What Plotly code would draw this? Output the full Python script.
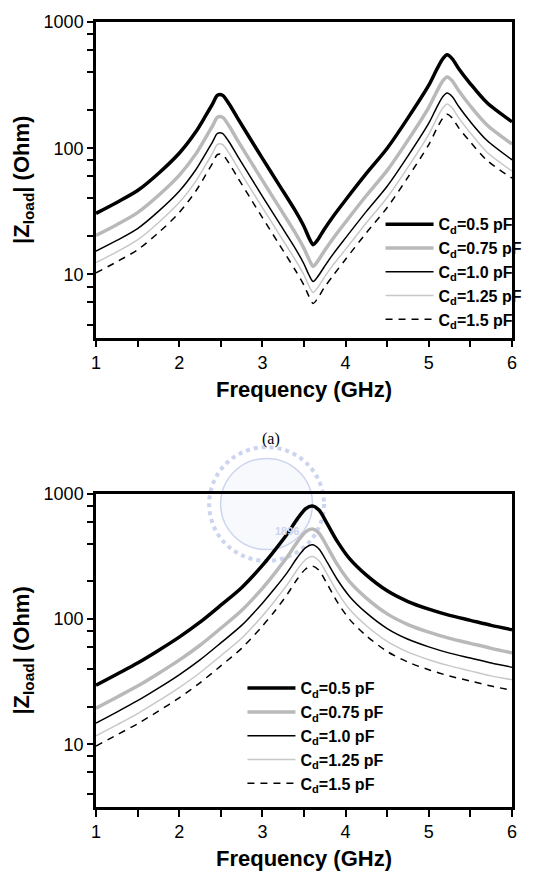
import plotly.graph_objects as go

# ---------------- data ----------------
freq_a = [1.0, 1.25, 1.5, 1.75, 2.0, 2.2, 2.32, 2.4, 2.46, 2.52, 2.6, 2.7, 2.85, 3.0, 3.2, 3.4,
          3.5, 3.56, 3.61, 3.66, 3.74, 3.85, 4.0, 4.25, 4.5, 4.75, 5.0, 5.1, 5.17, 5.22, 5.28,
          5.36, 5.5, 5.7, 6.0]
za_05 = [30.5, 37.2, 46.2, 63.1, 91.2, 135, 182, 224, 263, 263, 224, 174, 120, 83.2, 51.3, 31.6,
         24.0, 19.5, 17.2, 18.6, 22.6, 28.8, 38.9, 63.1, 100, 174, 316, 427, 513, 550, 513,
         427, 324, 229, 162]
za_075 = [20.4, 24.8, 30.9, 42.2, 60.9, 90.2, 122, 150, 176, 176, 150, 116, 80.2, 55.6, 34.3, 21.1,
          16.1, 13.2, 11.6, 12.6, 15.2, 19.3, 26.0, 42.2, 66.8, 116, 211, 285, 343, 367, 343,
          285, 216, 153, 108]
za_10 = [15.3, 18.6, 23.1, 31.6, 45.6, 67.5, 91, 112, 131, 131, 112, 87, 60, 41.6, 25.7, 15.9,
         12.1, 9.9, 8.8, 9.5, 11.4, 14.5, 19.5, 31.6, 50, 87, 158, 214, 257, 274, 257,
         214, 162, 115, 81]
za_125 = [12.4, 15.1, 18.8, 25.7, 37.1, 54.9, 74.1, 91.2, 107, 107, 91.2, 70.8, 48.8, 33.9, 20.9, 12.9,
          9.9, 8.1, 7.2, 7.8, 9.4, 11.9, 15.8, 25.7, 40.7, 70.8, 129, 174, 209, 224, 209,
          174, 132, 93, 66]
za_15 = [10.3, 12.6, 15.7, 21.4, 30.9, 45.8, 61.7, 75.9, 89.2, 89.2, 75.9, 59, 40.7, 28.2, 17.4, 10.7,
         8.2, 6.7, 5.9, 6.4, 7.8, 9.8, 13.2, 21.4, 33.9, 59, 107, 145, 174, 186, 174,
         145, 112, 80, 58]

freq_b = [1.0, 1.25, 1.5, 1.75, 2.0, 2.25, 2.5, 2.75, 3.0, 3.15, 3.3, 3.42, 3.52, 3.6, 3.68,
          3.78, 3.9, 4.05, 4.25, 4.5, 4.75, 5.0, 5.25, 5.5, 5.75, 6.0]
zb_05 = [29.6, 36.3, 44.6, 56.2, 71.8, 94.4, 129, 178, 268, 355, 479, 631, 759, 798, 741,
         575, 417, 302, 224, 168, 138, 120, 107, 97.7, 89.1, 82.2]
zb_075 = [19.4, 23.8, 29.2, 36.8, 47.0, 61.8, 84.5, 117, 176, 233, 314, 413, 497, 523, 485,
          377, 273, 198, 147, 110, 90.4, 78.6, 70.1, 64.0, 58.4, 53.8]
zb_10 = [14.8, 18.1, 22.3, 28.1, 35.9, 47.2, 64.5, 89, 134, 176, 236, 310, 372, 392, 363,
         283, 207, 151, 112, 84, 69, 60, 53.5, 48.9, 44.6, 41.3]
zb_125 = [11.7, 14.3, 17.6, 22.2, 28.4, 37.3, 51.0, 70.3, 106, 140, 189, 249, 299, 316, 292,
          227, 165, 119, 88.5, 66.4, 54.5, 47.4, 42.3, 38.6, 35.2, 32.8]
zb_15 = [9.7, 11.9, 14.6, 18.4, 23.5, 31.0, 42.3, 58.4, 88, 116, 158, 209, 251, 265, 245,
         190, 137, 99, 73.5, 55.1, 45.3, 39.4, 35.1, 32.0, 29.2, 27.0]

labels = ["C<sub>d</sub>=0.5 pF", "C<sub>d</sub>=0.75 pF", "C<sub>d</sub>=1.0 pF",
          "C<sub>d</sub>=1.25 pF", "C<sub>d</sub>=1.5 pF"]
x_tickvals = [1, 1.5, 2, 2.5, 3, 3.5, 4, 4.5, 5, 5.5, 6]
x_ticktext = ["1", "", "2", "", "3", "", "4", "", "5", "", "6"]
y_major = [10, 100, 1000]
y_minor = [4, 6, 8, 20, 40, 60, 80, 200, 400, 600, 800]
y_tickvals = [4, 6, 8, 10, 20, 40, 60, 80, 100, 200, 400, 600, 800, 1000]
y_ticktext = ["", "", "", "10", "", "", "", "", "100", "", "", "", "", "1000"]

styles = [dict(color="black", width=3.5),
          dict(color="#b9b9b9", width=3.5),
          dict(color="black", width=1.5),
          dict(color="#c8c8c8", width=1.5),
          dict(color="black", width=1.5, dash="7px,6px")]

FONT = "Liberation Sans, Arial, sans-serif"

fig = go.Figure()
for ys, lab, st in zip([za_05, za_075, za_10, za_125, za_15], labels, styles):
    fig.add_trace(go.Scatter(x=freq_a, y=ys, mode="lines", line=dict(shape="spline", smoothing=0.8, **st),
                             name="<b>" + lab + "</b>", xaxis="x", yaxis="y", legend="legend"))
for ys, lab, st in zip([zb_05, zb_075, zb_10, zb_125, zb_15], labels, styles):
    fig.add_trace(go.Scatter(x=freq_b, y=ys, mode="lines", line=dict(shape="spline", smoothing=0.8, **st),
                             name="<b>" + lab + "</b>", xaxis="x2", yaxis="y2", legend="legend2"))
# empty helper traces: transparent tick-only subplots laid over each panel
for xa, ya in [("x3", "y3"), ("x4", "y4"), ("x5", "y5"), ("x6", "y6")]:
    fig.add_trace(go.Scatter(x=[None], y=[None], xaxis=xa, yaxis=ya, showlegend=False, hoverinfo="skip"))

xcommon = dict(range=[1, 6], tickvals=x_tickvals, ticktext=x_ticktext, ticks="outside", ticklen=7,
               tickwidth=2, tickcolor="black",
               showline=True, linewidth=2.5, linecolor="black", mirror=True, showgrid=False,
               zeroline=False, tickfont=dict(family=FONT, size=18, color="black"),
               title=dict(text="<b>Frequency (GHz)</b>", font=dict(family=FONT, size=22, color="black"),
                          standoff=10))
ycommon = dict(type="log", range=[0.5, 3], tickvals=y_tickvals, ticktext=y_ticktext,
               ticks="outside", ticklen=6, tickwidth=2, tickcolor="black",
               showline=True, linewidth=2.5, linecolor="black", mirror=True, showgrid=False,
               zeroline=False, tickfont=dict(family=FONT, size=18, color="black"),
               title=dict(text="<b>|Z<sub>load</sub>| (Ohm)</b>", font=dict(family=FONT, size=22, color="black"),
                          standoff=8))

hx_ticks = dict(range=[1, 6], tickvals=x_tickvals, ticks="outside", ticklen=7, tickwidth=2, tickcolor="black",
                showticklabels=False, showline=False, showgrid=False, zeroline=False, side="bottom")
hx_none = dict(range=[1, 6], ticks="", showticklabels=False, showline=False, showgrid=False,
               zeroline=False, side="bottom")
hy_major = dict(type="log", range=[0.5, 3], tickvals=y_major, ticks="outside", ticklen=8, tickwidth=2,
                tickcolor="black", showticklabels=False, showline=False, showgrid=False, zeroline=False,
                side="left")
hy_minor = dict(type="log", range=[0.5, 3], tickvals=y_minor, ticks="outside", ticklen=5, tickwidth=2,
                tickcolor="black", showticklabels=False, showline=False, showgrid=False, zeroline=False,
                side="left")

legcommon = dict(font=dict(family=FONT, size=16, color="black"), bgcolor="rgba(0,0,0,0)",
                 borderwidth=0, itemwidth=48, tracegroupgap=0, xanchor="left", yanchor="top")

# faint watermark emblem
cx, cy, rx, ry = 0.41, 0.386, 0.138, 0.0725
shapes = [
    dict(type="circle", xref="paper", yref="paper", x0=cx - rx, x1=cx + rx, y0=cy - ry, y1=cy + ry,
         line=dict(color="#ccd4ef", width=4, dash="dot"), layer="below"),
    dict(type="circle", xref="paper", yref="paper", x0=cx - rx * 0.8, x1=cx + rx * 0.8,
         y0=cy - ry * 0.8, y1=cy + ry * 0.8, line=dict(color="#ccd4ef", width=1.5),
         fillcolor="rgba(205,213,240,0.15)", layer="below"),
]

TOP = [0.598, 1]
BOT = [0, 0.399]
fig.update_layout(
    width=541, height=891, autosize=False,
    margin=dict(l=96, r=29, t=13, b=84),
    paper_bgcolor="white", plot_bgcolor="rgba(0,0,0,0)",
    xaxis=dict(domain=[0, 1], anchor="y", **xcommon),
    yaxis=dict(domain=TOP, anchor="x", **ycommon),
    xaxis2=dict(domain=[0, 1], anchor="y2", **xcommon),
    yaxis2=dict(domain=BOT, anchor="x2", **ycommon),
    xaxis3=dict(domain=[0, 1], anchor="y3", **hx_ticks),
    yaxis3=dict(domain=TOP, anchor="x3", **hy_major),
    xaxis4=dict(domain=[0, 1], anchor="y4", **hx_ticks),
    yaxis4=dict(domain=BOT, anchor="x4", **hy_major),
    xaxis5=dict(domain=[0, 1], anchor="y5", **hx_none),
    yaxis5=dict(domain=TOP, anchor="x5", **hy_minor),
    xaxis6=dict(domain=[0, 1], anchor="y6", **hx_none),
    yaxis6=dict(domain=BOT, anchor="x6", **hy_minor),
    legend=dict(x=0.684, y=0.764, **legcommon),
    legend2=dict(x=0.352, y=0.173, **legcommon),
    shapes=shapes,
    annotations=[dict(text="(a)", xref="paper", yref="paper", x=0.42, y=0.469, showarrow=False,
                      font=dict(family="Liberation Serif, Times New Roman, serif", size=16, color="black")),
                 dict(text="<b>1896</b>", xref="paper", yref="paper", x=cx + 0.05, y=cy - 0.035, showarrow=False,
                      font=dict(family=FONT, size=11, color="#ccd4ef"))],
    showlegend=True,
)

fig.write_html("out.html")
